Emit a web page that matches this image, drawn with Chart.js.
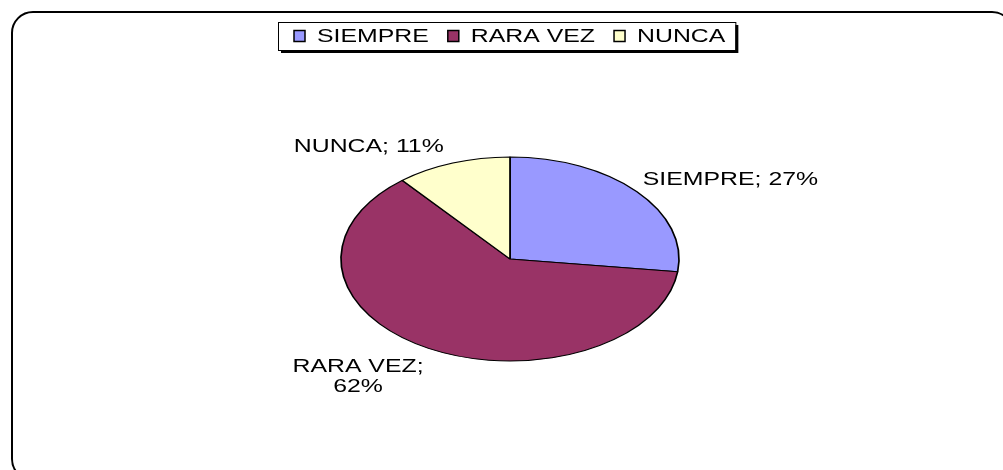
<!DOCTYPE html>
<html>
<head>
<meta charset="utf-8">
<script src="https://cdn.jsdelivr.net/npm/chart.js@4.4.1/dist/chart.umd.min.js"></script>
<style>
  html, body { margin: 0; padding: 0; background: #fff; overflow: hidden; }
  #wrap { position: relative; width: 1003px; height: 470px; overflow: hidden; }
  #frame {
    position: absolute; left: 11px; top: 11px; width: 1003px; height: 470px;
    border: 2px solid #000; border-radius: 22px; box-sizing: border-box;
  }
  #box { position: absolute; left: 0; top: 0; width: 1003px; height: 470px; }
</style>
</head>
<body>
<div id="wrap">
  <div id="frame"></div>
  <div id="box"><canvas id="pieChart"></canvas></div>
</div>
<script>
const categories = ["SIEMPRE", "RARA VEZ", "NUNCA"];
const values = [27, 62, 11];
const colors = ["#9999FF", "#993366", "#FFFFCC"];

const FONT = "18px 'Liberation Sans', Arial, sans-serif";
const SX = 1.38;          // text is drawn a bit wide, like the original
const SQUASH = 102 / 169; // pie is an ellipse, not a circle

function wideText(ctx, txt, x, y, align) {
  ctx.save();
  ctx.translate(x, y);
  ctx.scale(SX, 1);
  ctx.textAlign = align;
  ctx.textBaseline = "middle";
  ctx.fillText(txt, 0, 0);
  ctx.restore();
}

const squashPlugin = {
  id: "squash",
  beforeDatasetsDraw(chart) {
    const arc = chart.getDatasetMeta(0).data[0];
    const ctx = chart.ctx;
    ctx.save();
    ctx.translate(arc.x, arc.y);
    ctx.scale(1, SQUASH);
    ctx.translate(-arc.x, -arc.y);
  },
  afterDatasetsDraw(chart) {
    chart.ctx.restore();
  }
};

const labelPlugin = {
  id: "labels",
  afterDraw(chart) {
    const ctx = chart.ctx;
    const meta = chart.getDatasetMeta(0);
    const total = values.reduce((a, b) => a + b, 0);
    ctx.save();
    ctx.font = FONT;
    ctx.fillStyle = "#000";

    // data labels
    meta.data.forEach((arc, i) => {
      const mid = (arc.startAngle + arc.endAngle) / 2;
      const c = Math.cos(mid), s = Math.sin(mid);
      const ex = arc.x + c * arc.outerRadius;
      const ey = arc.y + s * arc.outerRadius * SQUASH;
      const pct = Math.round(values[i] / total * 100) + "%";
      if (s > 0.5) {
        // wrapped label under the pie
        const lines = [categories[i] + ";", pct];
        const w = Math.max(...lines.map(t => ctx.measureText(t).width * SX));
        const cx = ex - 5 - w / 2;
        lines.forEach((t, k) => wideText(ctx, t, cx, ey + 19 + k * 20, "center"));
      } else {
        const txt = categories[i] + "; " + pct;
        if (c >= 0) wideText(ctx, txt, ex + 6, ey - 12, "left");
        else wideText(ctx, txt, ex - 9, ey - 16, "right");
      }
    });

    // legend box
    const sq = 11, gapIn = 12, gapOut = 19, padL = 16, padR = 10;
    const widths = categories.map(t => ctx.measureText(t).width * SX);
    let bw = padL + padR + gapOut * (categories.length - 1);
    widths.forEach(w => { bw += sq + gapIn + w; });
    const bh = 28;
    const bx = Math.round(meta.data[0].x - 3 - bw / 2);
    const by = 22;
    ctx.fillStyle = "#000";
    ctx.fillRect(bx + 3, by + 3, bw, bh);
    ctx.fillStyle = "#fff";
    ctx.fillRect(bx, by, bw, bh);
    ctx.strokeStyle = "#000";
    ctx.lineWidth = 1;
    ctx.strokeRect(bx + 0.5, by + 0.5, bw, bh);

    let x = bx + padL;
    const my = by + bh / 2;
    categories.forEach((t, i) => {
      ctx.fillStyle = colors[i];
      ctx.fillRect(x, my - sq / 2, sq, sq);
      ctx.strokeStyle = "#000";
      ctx.lineWidth = 1.5;
      ctx.strokeRect(x, my - sq / 2, sq, sq);
      ctx.fillStyle = "#000";
      wideText(ctx, t, x + sq + gapIn, my + 1, "left");
      x += sq + gapIn + widths[i] + gapOut;
    });
    ctx.restore();
  }
};

new Chart(document.getElementById("pieChart"), {
  type: "pie",
  data: {
    labels: categories,
    datasets: [{
      data: values,
      backgroundColor: colors,
      borderColor: "#000",
      borderWidth: 1.7,
      radius: 169
    }]
  },
  options: {
    responsive: true,
    maintainAspectRatio: false,
    animation: false,
    layout: {
      padding: { left: 17, right: 0, top: 48, bottom: 0 }
    },
    plugins: {
      legend: { display: false },
      tooltip: { enabled: false }
    }
  },
  plugins: [squashPlugin, labelPlugin]
});
</script>
</body>
</html>
